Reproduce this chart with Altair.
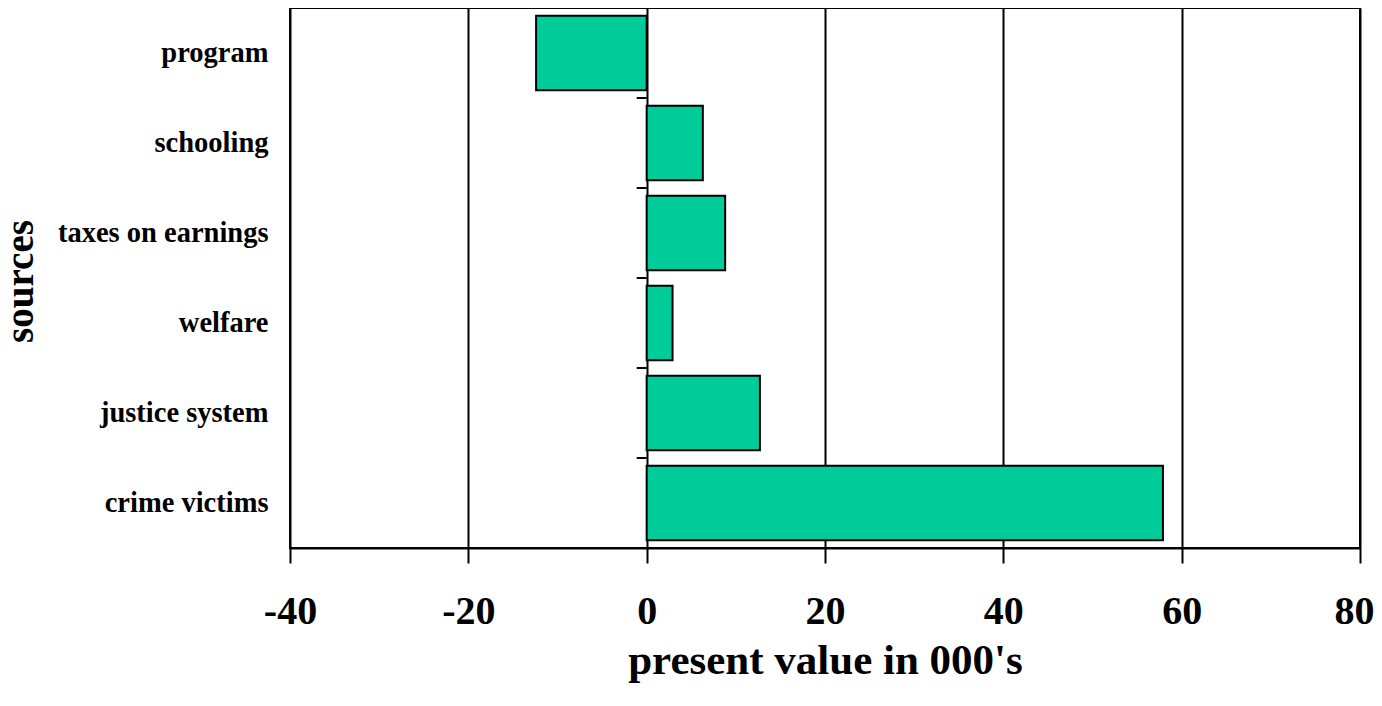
import altair as alt
import pandas as pd

categories = ["program", "schooling", "taxes on earnings", "welfare", "justice system", "crime victims"]
values = [-12.4, 6.3, 8.8, 2.9, 12.7, 57.9]
x_ticks = [-40, -20, 0, 20, 40, 60, 80]

df = pd.DataFrame({"source": categories, "value": values})
last_df = pd.DataFrame({"source": [categories[-1]]})

W, H = 1070, 540
STEP = H / len(categories)
FONT = "Liberation Serif"

yscale = alt.Scale(domain=categories, paddingInner=0.17, paddingOuter=0.085)
xscale = alt.Scale(domain=[x_ticks[0], x_ticks[-1]], nice=False, zero=False)

bars = alt.Chart(df).mark_bar(color="#00CC99", stroke="black", strokeWidth=2).encode(
    x=alt.X("value:Q", scale=xscale,
            axis=alt.Axis(values=x_ticks, title="present value in 000's",
                          labelExpr="toString(datum.value)", labelFlush=False,
                          labelOffset={"condition": {"test": "datum.value == 80", "value": -6}, "value": 0},
                          grid=True, gridColor="black", gridWidth=2, gridOpacity=1,
                          domain=True, domainColor="black", domainWidth=2,
                          ticks=True, tickColor="black", tickWidth=2, tickSize=15,
                          labelFont=FONT, labelFontSize=40, labelFontWeight="bold", labelColor="black",
                          labelPadding=28,
                          titleFont=FONT, titleFontSize=43, titleFontWeight="bold", titleColor="black",
                          titlePadding=8)),
    x2=alt.datum(0),
    y=alt.Y("source:N", scale=yscale, sort=categories,
            axis=alt.Axis(title="sources", domain=False, ticks=False, grid=False,
                          labelFont=FONT, labelFontSize=28.5, labelFontWeight="bold", labelColor="black",
                          labelPadding=22, labelLimit=400,
                          titleFont=FONT, titleFontSize=39, titleFontWeight="bold", titleColor="black",
                          titleAngle=-90, titleX=-258, titleY=H / 2 + 3, titleAlign="center",
                          titleBaseline="alphabetic")),
)

ticks_top = alt.Chart(df).mark_rule(color="black", strokeWidth=2, yOffset=-STEP / 2, x2Offset=-10).encode(
    y=alt.Y("source:N", scale=yscale, sort=categories),
    x=alt.X(datum=0),
    x2=alt.X2(datum=0),
)

ticks_bottom = alt.Chart(last_df).mark_rule(color="black", strokeWidth=2, yOffset=STEP / 2, x2Offset=-10).encode(
    y=alt.Y("source:N", scale=yscale, sort=categories),
    x=alt.X(datum=0),
    x2=alt.X2(datum=0),
)

chart = alt.layer(bars, ticks_top, ticks_bottom).properties(
    width=W, height=H,
    autosize=alt.AutoSizeParams(type="none"),
    padding={"left": 282, "top": 0, "right": 14, "bottom": 140},
    background="white",
).configure_view(stroke="black", strokeWidth=2)

chart.save("out.html", embed_options={"renderer": "svg", "actions": False})
